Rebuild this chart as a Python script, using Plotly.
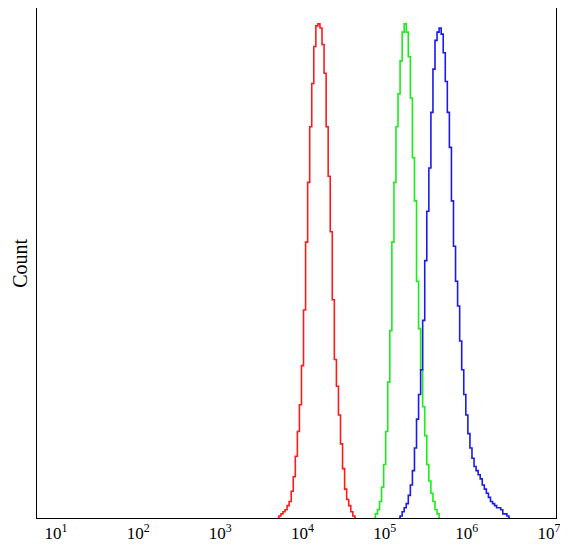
import numpy as np
import plotly.graph_objects as go

# Histogram channel grid (log10 of fluorescence), 0.025 decade bins
bin_width_log = 0.025

red_start_log = 3.700
red_counts = [0, 1, 2, 3, 4, 6, 8, 13, 20, 30, 42, 55, 74, 101, 134, 163, 190, 211, 229, 239,
              240, 238, 230, 216, 190, 166, 139, 106, 77, 64, 50, 36, 24, 14, 9, 6, 3, 1, 0]

green_start_log = 4.875
green_counts = [0, 2, 4, 8, 15, 26, 42, 66, 91, 134, 163, 190, 206, 222, 236, 240, 236, 224, 204, 175,
                154, 115, 92, 72, 54, 40, 26, 18, 12, 8, 4, 2, 0]

blue_start_log = 5.175
blue_counts = [0, 1, 3, 5, 7, 11, 16, 23, 34, 48, 60, 72, 96, 125, 149, 170, 197, 218, 232, 236,
               238, 235, 226, 212, 197, 180, 154, 132, 115, 103, 86, 72, 60, 50, 41, 34, 29, 25, 23, 21,
               19, 16, 14, 12, 10, 8, 7, 6, 5, 5, 4, 2, 2, 1, 0]

tick_values = [1e1, 1e2, 1e3, 1e4, 1e5, 1e6, 1e7]
tick_labels = ["10<sup>1</sup>", "10<sup>2</sup>", "10<sup>3</sup>", "10<sup>4</sup>",
               "10<sup>5</sup>", "10<sup>6</sup>", "10<sup>7</sup>"]

series = [
    (red_start_log, red_counts, "#ff1a1a"),
    (green_start_log, green_counts, "#1aee1a"),
    (blue_start_log, blue_counts, "#1a1aee"),
]

fig = go.Figure()
for start, counts, color in series:
    x = 10 ** (start + bin_width_log * np.arange(len(counts)))
    fig.add_trace(go.Scatter(x=x, y=counts, mode="lines", line=dict(color=color, width=1.6, shape="hvh"),
                             showlegend=False, hoverinfo="skip"))

serif = "Liberation Serif"
fig.update_layout(
    width=560, height=541,
    margin=dict(l=29, r=12, t=0, b=31),
    paper_bgcolor="white", plot_bgcolor="white",
    font=dict(family=serif, size=17, color="black"),
    xaxis=dict(type="log", range=[0.769, 7.085], tickvals=tick_values, ticktext=tick_labels,
               showgrid=False, zeroline=False, showline=True, mirror=True, linecolor="black",
               linewidth=1, ticks="", ticklen=0, tickfont=dict(family=serif, size=17, color="black")),
    yaxis=dict(range=[0, 247.7], showticklabels=False, showgrid=False, zeroline=False, showline=True,
               mirror=True, linecolor="black", linewidth=1, ticks=""),
    annotations=[dict(text="Count", xref="paper", yref="paper", x=-0.033, y=0.5, textangle=-90,
                      showarrow=False, font=dict(family=serif, size=20, color="black"),
                      xanchor="center", yanchor="middle")],
)

fig.write_html("out.html")
